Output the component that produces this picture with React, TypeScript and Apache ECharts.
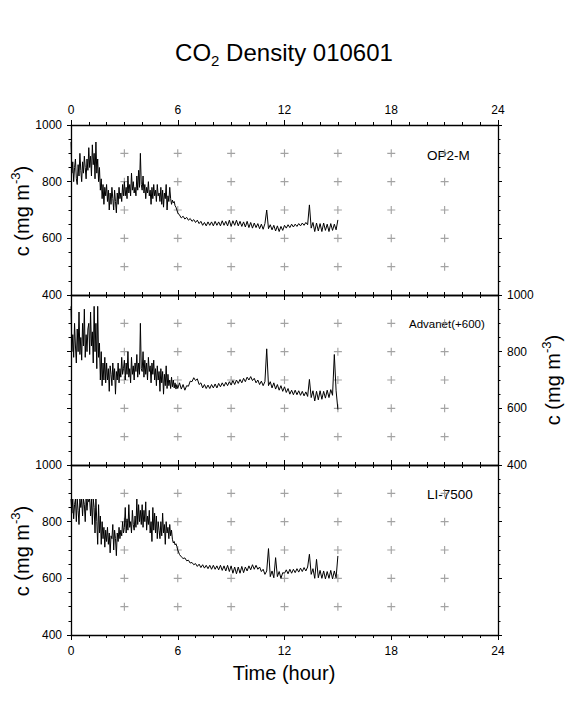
import React, { useEffect, useRef } from "react";
import * as echarts from "echarts";

// sampling: 0–6 h every 0.05 h (EARLY arrays), 6–15 h every 0.1 h (LATE arrays)
const EARLY_START = 0;
const EARLY_STEP = 0.05;
const LATE_START = 6;
const LATE_STEP = 0.1;

// OP2-M, CO2 density (mg m-3)
const OP2M_EARLY = [
  940, 830, 870, 800, 850, 880, 810, 790, 860, 820, 900, 840, 800, 870, 830, 890, 850, 810, 880, 840,
  920, 850, 890, 820, 930, 860, 900, 810, 940, 830, 880, 800, 850, 770, 810, 740, 790, 720, 780, 750,
  790, 730, 770, 700, 760, 720, 780, 740, 700, 770, 730, 690, 760, 720, 780, 740, 760, 730, 790, 750,
  800, 750, 780, 740, 820, 760, 790, 750, 830, 770, 800, 760, 780, 750, 820, 770, 840, 780, 900, 790,
  770, 820, 760, 790, 740, 780, 760, 800, 750, 770, 720, 780, 740, 790, 750, 770, 730, 790, 750, 760,
  730, 780, 720, 770, 710, 760, 740, 790, 700, 750, 730, 780, 740, 720, 735, 725, 730, 715, 710, 700,
];
const OP2M_LATE = [
  690, 682, 672, 678, 668, 674, 664, 670, 660, 666,
  656, 664, 652, 660, 646, 656, 644, 658, 646, 658,
  644, 660, 646, 658, 644, 662, 646, 660, 644, 664,
  642, 662, 646, 664, 644, 660, 642, 658, 640, 660,
  638, 656, 636, 654, 638, 652, 634, 650, 632, 652,
  700, 634, 648, 630, 646, 626, 644, 624, 642, 628,
  646, 636, 648, 638, 650, 640, 650, 642, 652, 644,
  654, 646, 656, 648, 718, 636, 656, 624, 654, 626,
  652, 624, 654, 628, 650, 624, 652, 628, 650, 630,
  665,
];

// Advanet (+600 offset)
const ADVANET_EARLY = [
  960, 800, 860, 780, 900, 820, 760, 880, 800, 940, 790, 850, 770, 900, 820, 950, 780, 860, 800, 880,
  900, 790, 940, 820, 870, 760, 960, 800, 900, 740, 960, 780, 830, 700, 800, 680, 760, 700, 780, 690,
  760, 700, 740, 660, 750, 720, 680, 760, 700, 740, 650, 730, 700, 760, 690, 740, 710, 780, 720, 740,
  770, 700, 760, 720, 800, 710, 740, 690, 780, 720, 750, 700, 760, 730, 790, 710, 760, 720, 900, 740,
  730, 800, 710, 770, 720, 760, 700, 780, 730, 750, 690, 760, 720, 770, 700, 740, 680, 750, 700, 730,
  660, 740, 690, 730, 650, 720, 680, 750, 670, 720, 680, 700, 670, 710, 676, 700, 672, 690, 668, 684,
];
const ADVANET_LATE = [
  670, 690, 668, 684, 664, 680, 678, 696, 694, 708,
  698, 704, 684, 690, 672, 684, 670, 682, 670, 684,
  672, 686, 672, 688, 676, 690, 678, 692, 680, 694,
  682, 698, 684, 700, 688, 702, 690, 706, 694, 710,
  700, 712, 698, 706, 690, 700, 684, 696, 680, 694,
  810, 680, 694, 672, 690, 668, 684, 664, 680, 660,
  676, 656, 670, 650, 664, 648, 664, 648, 662, 646,
  660, 644, 658, 642, 702, 638, 662, 626, 660, 630,
  662, 632, 660, 636, 664, 638, 666, 646, 790, 662,
  596,
];

// LI-7500
const LI7500_EARLY = [
  880, 830, 880, 810, 860, 880, 800, 880, 840, 790, 880, 850, 880, 820, 880, 860, 800, 880, 840, 880,
  870, 880, 820, 880, 790, 880, 850, 760, 880, 800, 720, 860, 760, 820, 720, 800, 740, 780, 710, 770,
  730, 780, 720, 760, 690, 750, 740, 790, 700, 770, 740, 680, 760, 730, 780, 740, 770, 750, 800, 760,
  780, 850, 760, 810, 770, 860, 780, 800, 760, 840, 790, 770, 820, 780, 880, 790, 860, 800, 840, 790,
  860, 780, 840, 800, 870, 770, 820, 790, 840, 760, 800, 730, 850, 770, 830, 760, 820, 740, 800, 770,
  740, 800, 750, 830, 760, 790, 720, 800, 760, 780, 740, 790, 750, 770, 738, 725, 730, 718, 722, 712,
];
const LI7500_LATE = [
  700, 684, 676, 670, 672, 662, 664, 654, 656, 648,
  652, 642, 650, 638, 648, 636, 646, 634, 646, 632,
  646, 632, 644, 630, 646, 628, 644, 626, 646, 624,
  644, 618, 640, 616, 640, 618, 642, 620, 640, 626,
  644, 630, 648, 632, 646, 632, 640, 624, 632, 614,
  626, 705, 606, 626, 602, 673, 606, 624, 600, 620,
  618, 630, 616, 632, 618, 632, 620, 634, 622, 636,
  624, 638, 626, 640, 685, 614, 634, 600, 667, 602,
  628, 600, 626, 598, 624, 600, 628, 598, 626, 602,
  679,
];

const PANEL_NAMES = ["OP2-M", "Advanet(+600)", "LI-7500"];
const PANEL_EARLY = [OP2M_EARLY, ADVANET_EARLY, LI7500_EARLY];
const PANEL_LATE = [OP2M_LATE, ADVANET_LATE, LI7500_LATE];

// grid of grey "+" marks
const CROSS_X = [3, 6, 9, 12, 15, 18, 21];
const CROSS_Y = [500, 600, 700, 800, 900];

const X_MIN = 0;
const X_MAX = 24;
const X_INTERVAL = 6;
const Y_MIN = 400;
const Y_MAX = 1000;
const Y_INTERVAL = 200;

const FONT = "'Liberation Sans', Arial, Helvetica, sans-serif";

const GRID_LEFT = 71;
const GRID_WIDTH = 427;
const GRID_TOPS = [125, 295, 465];
const GRID_HEIGHT = 170;

export default function App() {
  const ref = useRef<HTMLDivElement>(null);

  useEffect(() => {
    if (!ref.current) return;
    const chart = echarts.init(ref.current, undefined, { renderer: "svg" });

    const axisLine = { show: true, onZero: false, lineStyle: { color: "#000", width: 1.3 } };
    const label = (show: boolean, margin: number) => ({
      show,
      color: "#000",
      fontSize: 12,
      fontFamily: FONT,
      margin,
      formatter: (v: number) => String(v),
    });

    const grids = GRID_TOPS.map((top) => ({
      left: GRID_LEFT,
      top,
      width: GRID_WIDTH,
      height: GRID_HEIGHT,
      containLabel: false,
    }));

    const xAxes: any[] = [];
    const yAxes: any[] = [];
    GRID_TOPS.forEach((_, g) => {
      ["bottom", "top"].forEach((pos) => {
        xAxes.push({
          type: "value",
          gridIndex: g,
          position: pos,
          min: X_MIN,
          max: X_MAX,
          interval: X_INTERVAL,
          axisLine,
          axisTick: { show: true, inside: false, length: 5, lineStyle: { color: "#000", width: 1 } },
          minorTick: { show: true, splitNumber: 6, length: 3, lineStyle: { color: "#000", width: 1 } },
          splitLine: { show: false },
          minorSplitLine: { show: false },
          axisLabel: label((pos === "bottom" && g === 2) || (pos === "top" && g === 0), pos === "top" ? 9 : 10),
        });
      });
      ["left", "right"].forEach((pos) => {
        yAxes.push({
          type: "value",
          gridIndex: g,
          position: pos,
          min: Y_MIN,
          max: Y_MAX,
          interval: Y_INTERVAL,
          axisLine,
          axisTick: { show: true, inside: false, length: 4, lineStyle: { color: "#000", width: 1 } },
          minorTick: { show: true, splitNumber: 4, length: 2.5, lineStyle: { color: "#000", width: 1 } },
          splitLine: { show: false },
          minorSplitLine: { show: false },
          axisLabel: label((pos === "left" && g !== 1) || (pos === "right" && g === 1), 9),
        });
      });
    });

    const crosses: number[][] = [];
    CROSS_X.forEach((x) => CROSS_Y.forEach((y) => crosses.push([x, y])));

    const series: any[] = [];
    PANEL_NAMES.forEach((name, g) => {
      const data = [
        ...PANEL_EARLY[g].map((v, i) => [+(EARLY_START + i * EARLY_STEP).toFixed(3), v]),
        ...PANEL_LATE[g].map((v, i) => [+(LATE_START + i * LATE_STEP).toFixed(3), v]),
      ];
      series.push({
        type: "scatter",
        xAxisIndex: g * 2,
        yAxisIndex: g * 2,
        data: crosses,
        symbol: "path://M3,0h1v7h-1z M0,3h7v1h-7z",
        symbolSize: 8,
        itemStyle: { color: "#8c8c8c" },
        silent: true,
        z: 1,
      });
      series.push({
        name,
        type: "line",
        xAxisIndex: g * 2,
        yAxisIndex: g * 2,
        data,
        showSymbol: false,
        symbol: "none",
        lineStyle: { color: "#000", width: 1 },
        silent: true,
        z: 2,
      });
    });

    const yTitle = (x: number, y: number) => ({
      type: "text",
      x,
      y,
      rotation: Math.PI / 2,
      style: {
        text: "{a|c (mg m}{s|-3}{a|)}",
        align: "center",
        verticalAlign: "middle",
        fill: "#000",
        rich: {
          a: { fontSize: 20, fontFamily: FONT, lineHeight: 26, fill: "#000" },
          s: { fontSize: 13, fontFamily: FONT, lineHeight: 13, verticalAlign: "top", fill: "#000" },
        },
      },
    });

    const panelLabel = (text: string, x: number, y: number, size: number) => ({
      type: "text",
      x,
      y,
      style: {
        text,
        align: "left",
        verticalAlign: "middle",
        fontSize: size,
        fontFamily: FONT,
        fill: "#000",
      },
    });

    chart.setOption({
      animation: false,
      grid: grids,
      xAxis: xAxes,
      yAxis: yAxes,
      series,
      graphic: [
        {
          type: "text",
          x: 284,
          y: 52,
          style: {
            text: "{a|CO}{s|2}{a| Density 010601}",
            align: "center",
            verticalAlign: "middle",
            fill: "#000",
            rich: {
              a: { fontSize: 24, fontFamily: FONT, lineHeight: 32, fill: "#000" },
              s: { fontSize: 15, fontFamily: FONT, lineHeight: 15, verticalAlign: "bottom", fill: "#000" },
            },
          },
        },
        yTitle(22, 211),
        yTitle(553, 380),
        yTitle(22, 551),
        {
          type: "text",
          x: 284,
          y: 673,
          style: {
            text: "Time (hour)",
            align: "center",
            verticalAlign: "middle",
            fontSize: 20,
            fontFamily: FONT,
            fill: "#000",
          },
        },
        panelLabel(PANEL_NAMES[0], 427, 155, 13.5),
        panelLabel(PANEL_NAMES[1], 409, 324, 11.5),
        panelLabel(PANEL_NAMES[2], 427, 494, 13.5),
      ],
    });

    return () => chart.dispose();
  }, []);

  return (
    <div
      ref={ref}
      style={{ position: "absolute", left: 0, top: 0, width: 569, height: 708, background: "#fff" }}
    />
  );
}
